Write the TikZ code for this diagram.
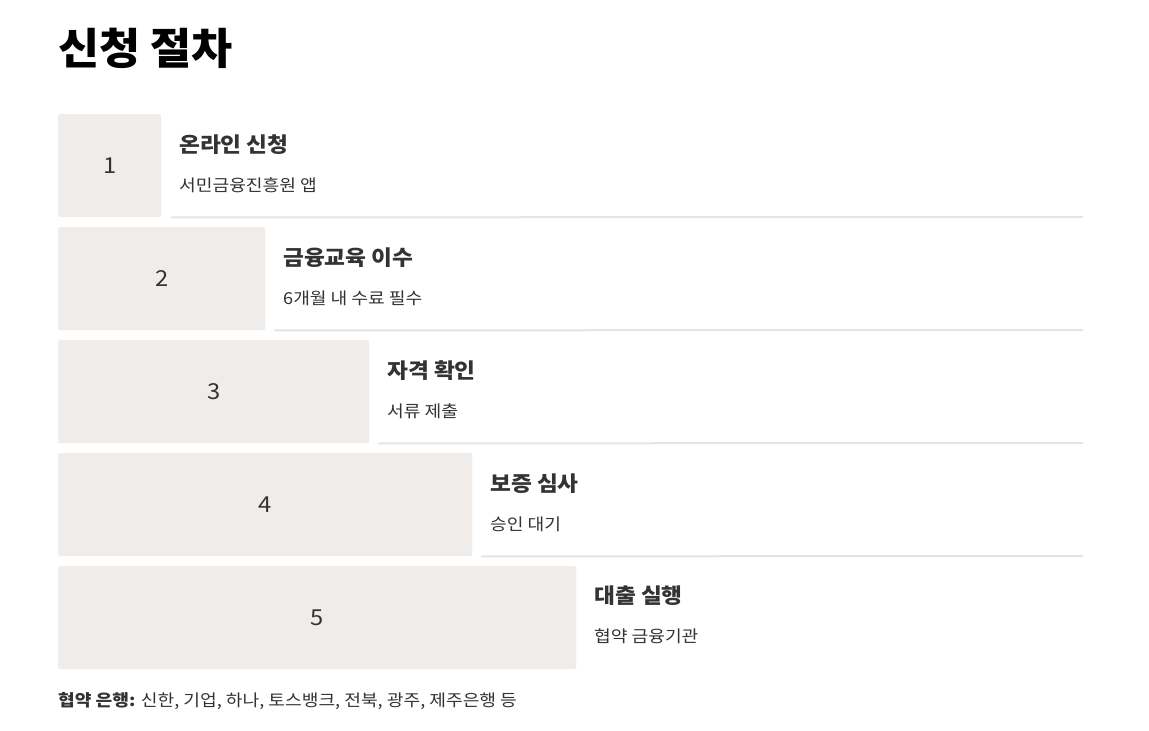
\documentclass[tikz,border=0pt]{standalone}
\usepackage{fontspec}
\setmainfont{Noto Sans CJK KR}
\newfontfamily\titlefont[FakeStretch=1.04]{Noto Sans CJK KR}
\newfontfamily\headfont[FakeStretch=1.08]{Noto Sans CJK KR}
\newfontfamily\widefont[FakeStretch=1.1]{Noto Sans CJK KR}
\usepackage{tikz}
\usetikzlibrary{positioning}

\definecolor{boxgray}{RGB}{240,236,234}
\definecolor{linegray}{RGB}{228,228,228}
\definecolor{inkgray}{RGB}{51,51,51}

\tikzset{
  stepbox/.style={fill=boxgray, rounded corners=2pt, minimum height=103pt, anchor=north west,
    inner sep=0pt, text=inkgray, font=\headfont\fontsize{22}{26}\selectfont},
  steptitle/.style={anchor=base west, inner sep=0pt, text=inkgray, font=\headfont\fontsize{21}{24}\selectfont\bfseries},
  stepsub/.style={anchor=base west, inner sep=0pt, text=inkgray, font=\widefont\fontsize{16.5}{19}\selectfont},
  sepline/.style={draw=linegray, line width=2pt}
}

\begin{document}
\begin{tikzpicture}[x=1pt, y=-1pt]
        \useasboundingbox[fill=white] (0, 0) rectangle (1149, 731);

        \node[anchor=base west, inner sep=0pt, font=\titlefont\fontsize{43}{50}\selectfont\bfseries] (title) at (58, 64) {신청 절차};

        % steps
        \node[stepbox, minimum width=103pt] (b1) at (58, 114) {1};
        \node[steptitle] (t1) at (179, 152) {온라인 신청};
        \node[stepsub] (s1) at (179, 191) {서민금융진흥원 앱};

        \node[stepbox, minimum width=207pt] (b2) at (58, 227) {2};
        \node[steptitle] (t2) at (283, 265) {금융교육 이수};
        \node[stepsub] (s2) at (283, 304) {6개월 내 수료 필수};

        \node[stepbox, minimum width=311pt] (b3) at (58, 340) {3};
        \node[steptitle] (t3) at (387, 378) {자격 확인};
        \node[stepsub] (s3) at (387, 417) {서류 제출};

        \node[stepbox, minimum width=414pt] (b4) at (58, 453) {4};
        \node[steptitle] (t4) at (490, 491) {보증 심사};
        \node[stepsub] (s4) at (490, 530) {승인 대기};

        \node[stepbox, minimum width=518pt] (b5) at (58, 566) {5};
        \node[steptitle] (t5) at (594, 603) {대출 실행};
        \node[stepsub] (s5) at (594, 642) {협약 금융기관};

        % separators
        \coordinate (e1) at (1083, 217);
        \coordinate (e2) at (1083, 330);
        \coordinate (e3) at (1083, 443);
        \coordinate (e4) at (1083, 556);
        \draw[sepline] ([xshift=10pt]b1.south east) -- (e1);
        \draw[sepline] ([xshift=9pt]b2.south east) -- (e2);
        \draw[sepline] ([xshift=9pt]b3.south east) -- (e3);
        \draw[sepline] ([xshift=9pt]b4.south east) -- (e4);

        \node[anchor=base west, inner sep=0pt, text=inkgray, font=\widefont\fontsize{16.5}{19}\selectfont] (banks) at (58, 706) {\textbf{협약 은행:} 신한, 기업, 하나, 토스뱅크, 전북, 광주, 제주은행 등};

    \end{tikzpicture}
\end{document}
